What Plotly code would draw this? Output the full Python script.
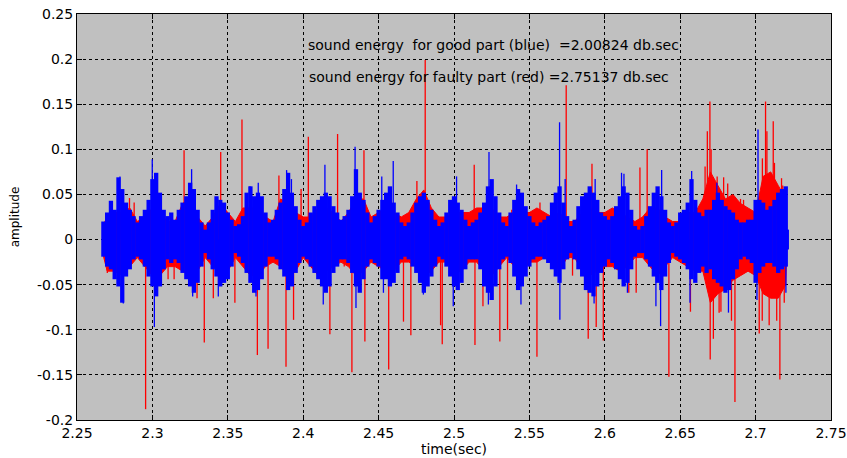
import plotly.graph_objects as go

# Sampling instants of the good-part envelope (s)
good_t = [
    2.2675, 2.2700, 2.2725, 2.2750, 2.2775, 2.2800, 2.2825, 2.2850, 2.2875, 2.2900,
    2.2925, 2.2950, 2.2975, 2.3000, 2.3025, 2.3050, 2.3075, 2.3100, 2.3125, 2.3150,
    2.3175, 2.3200, 2.3225, 2.3250, 2.3275, 2.3300, 2.3325, 2.3350, 2.3375, 2.3400,
    2.3425, 2.3450, 2.3475, 2.3500, 2.3525, 2.3550, 2.3575, 2.3600, 2.3625, 2.3650,
    2.3675, 2.3700, 2.3725, 2.3750, 2.3775, 2.3800, 2.3825, 2.3850, 2.3875, 2.3900,
    2.3925, 2.3950, 2.3975, 2.4000, 2.4025, 2.4050, 2.4075, 2.4100, 2.4125, 2.4150,
    2.4175, 2.4200, 2.4225, 2.4250, 2.4275, 2.4300, 2.4325, 2.4350, 2.4375, 2.4400,
    2.4425, 2.4450, 2.4475, 2.4500, 2.4525, 2.4550, 2.4575, 2.4600, 2.4625, 2.4650,
    2.4675, 2.4700, 2.4725, 2.4750, 2.4775, 2.4800, 2.4825, 2.4850, 2.4875, 2.4900,
    2.4925, 2.4950, 2.4975, 2.5000, 2.5025, 2.5050, 2.5075, 2.5100, 2.5125, 2.5150,
    2.5175, 2.5200, 2.5225, 2.5250, 2.5275, 2.5300, 2.5325, 2.5350, 2.5375, 2.5400,
    2.5425, 2.5450, 2.5475, 2.5500, 2.5525, 2.5550, 2.5575, 2.5600, 2.5625, 2.5650,
    2.5675, 2.5700, 2.5725, 2.5750, 2.5775, 2.5800, 2.5825, 2.5850, 2.5875, 2.5900,
    2.5925, 2.5950, 2.5975, 2.6000, 2.6025, 2.6050, 2.6075, 2.6100, 2.6125, 2.6150,
    2.6175, 2.6200, 2.6225, 2.6250, 2.6275, 2.6300, 2.6325, 2.6350, 2.6375, 2.6400,
    2.6425, 2.6450, 2.6475, 2.6500, 2.6525, 2.6550, 2.6575, 2.6600, 2.6625, 2.6650,
    2.6675, 2.6700, 2.6725, 2.6750, 2.6775, 2.6800, 2.6825, 2.6850, 2.6875, 2.6900,
    2.6925, 2.6950, 2.6975, 2.7000, 2.7025, 2.7050, 2.7075, 2.7100, 2.7125, 2.7150,
    2.7175, 2.7200, 2.7207,
]

# Good part (blue): upper envelope of the amplitude
good_upper = [
    0.020, 0.030, 0.043, 0.033, 0.069, 0.056, 0.041, 0.033, 0.026, 0.019,
    0.026, 0.033, 0.044, 0.067, 0.074, 0.052, 0.033, 0.026, 0.030, 0.022,
    0.033, 0.041, 0.048, 0.063, 0.056, 0.033, 0.019, 0.011, 0.019, 0.033,
    0.048, 0.044, 0.041, 0.030, 0.022, 0.015, 0.017, 0.026, 0.052, 0.059,
    0.048, 0.052, 0.048, 0.030, 0.019, 0.022, 0.033, 0.041, 0.056, 0.074,
    0.052, 0.037, 0.022, 0.015, 0.019, 0.030, 0.037, 0.044, 0.048, 0.052,
    0.048, 0.037, 0.030, 0.022, 0.026, 0.033, 0.048, 0.078, 0.052, 0.044,
    0.030, 0.019, 0.026, 0.033, 0.044, 0.052, 0.059, 0.041, 0.030, 0.019,
    0.015, 0.019, 0.030, 0.041, 0.048, 0.052, 0.044, 0.033, 0.022, 0.015,
    0.019, 0.030, 0.044, 0.048, 0.041, 0.033, 0.022, 0.015, 0.019, 0.022,
    0.030, 0.041, 0.059, 0.067, 0.048, 0.030, 0.019, 0.015, 0.030, 0.044,
    0.056, 0.052, 0.037, 0.026, 0.019, 0.015, 0.019, 0.022, 0.026, 0.041,
    0.052, 0.059, 0.041, 0.026, 0.015, 0.022, 0.037, 0.048, 0.052, 0.059,
    0.052, 0.044, 0.030, 0.026, 0.022, 0.026, 0.037, 0.048, 0.059, 0.052,
    0.033, 0.015, 0.011, 0.015, 0.026, 0.037, 0.052, 0.059, 0.048, 0.033,
    0.019, 0.015, 0.019, 0.030, 0.033, 0.041, 0.067, 0.044, 0.030, 0.026,
    0.033, 0.033, 0.044, 0.052, 0.044, 0.037, 0.033, 0.030, 0.022, 0.019,
    0.019, 0.022, 0.022, 0.044, 0.044, 0.041, 0.033, 0.037, 0.044, 0.052,
    0.056, 0.059, 0.011,
]

# Good part (blue): lower envelope of the amplitude
good_lower = [
    -0.019, -0.030, -0.033, -0.044, -0.052, -0.070, -0.041, -0.033, -0.022, -0.019,
    -0.022, -0.030, -0.041, -0.052, -0.063, -0.052, -0.033, -0.022, -0.026, -0.022,
    -0.026, -0.037, -0.044, -0.052, -0.059, -0.048, -0.030, -0.015, -0.022, -0.033,
    -0.041, -0.052, -0.048, -0.044, -0.030, -0.015, -0.019, -0.026, -0.037, -0.048,
    -0.059, -0.056, -0.044, -0.030, -0.019, -0.019, -0.022, -0.033, -0.041, -0.056,
    -0.052, -0.037, -0.026, -0.019, -0.022, -0.030, -0.037, -0.044, -0.052, -0.059,
    -0.052, -0.037, -0.030, -0.022, -0.022, -0.026, -0.037, -0.052, -0.059, -0.044,
    -0.030, -0.022, -0.026, -0.030, -0.044, -0.044, -0.052, -0.048, -0.037, -0.022,
    -0.019, -0.022, -0.030, -0.037, -0.048, -0.059, -0.052, -0.041, -0.030, -0.019,
    -0.022, -0.030, -0.041, -0.052, -0.056, -0.048, -0.033, -0.022, -0.022, -0.022,
    -0.033, -0.052, -0.059, -0.067, -0.052, -0.033, -0.022, -0.019, -0.026, -0.041,
    -0.056, -0.052, -0.041, -0.030, -0.022, -0.019, -0.019, -0.022, -0.026, -0.033,
    -0.041, -0.048, -0.033, -0.022, -0.015, -0.022, -0.033, -0.041, -0.056, -0.059,
    -0.063, -0.052, -0.037, -0.030, -0.022, -0.026, -0.033, -0.044, -0.052, -0.048,
    -0.033, -0.019, -0.015, -0.015, -0.022, -0.030, -0.041, -0.048, -0.056, -0.041,
    -0.026, -0.015, -0.019, -0.022, -0.026, -0.033, -0.044, -0.048, -0.037, -0.030,
    -0.037, -0.033, -0.044, -0.048, -0.052, -0.059, -0.056, -0.044, -0.033, -0.022,
    -0.019, -0.022, -0.026, -0.048, -0.037, -0.030, -0.026, -0.026, -0.030, -0.037,
    -0.033, -0.030, -0.011,
]

# Sampling instants of the faulty-part envelope (s)
faulty_t = [
    2.267, 2.270, 2.275, 2.280, 2.285, 2.290, 2.295, 2.300, 2.305, 2.310,
    2.315, 2.320, 2.325, 2.330, 2.335, 2.340, 2.345, 2.350, 2.355, 2.360,
    2.365, 2.370, 2.375, 2.380, 2.385, 2.390, 2.395, 2.400, 2.405, 2.410,
    2.415, 2.420, 2.425, 2.430, 2.435, 2.440, 2.445, 2.450, 2.455, 2.460,
    2.465, 2.470, 2.475, 2.480, 2.485, 2.490, 2.495, 2.500, 2.505, 2.510,
    2.515, 2.520, 2.525, 2.530, 2.535, 2.540, 2.545, 2.550, 2.555, 2.560,
    2.565, 2.570, 2.575, 2.580, 2.585, 2.590, 2.595, 2.600, 2.605, 2.610,
    2.615, 2.620, 2.625, 2.630, 2.635, 2.640, 2.645, 2.650, 2.655, 2.660,
    2.665, 2.670, 2.675, 2.680, 2.685, 2.690, 2.695, 2.700, 2.705, 2.710,
    2.715, 2.720, 2.7207,
]

# Faulty part (red): upper / lower envelope of the amplitude
faulty_upper = [
    0.015, 0.025, 0.030, 0.030, 0.035, 0.020, 0.025, 0.035, 0.030, 0.020,
    0.020, 0.040, 0.045, 0.025, 0.015, 0.025, 0.040, 0.030, 0.020, 0.035,
    0.035, 0.035, 0.025, 0.020, 0.045, 0.040, 0.030, 0.025, 0.025, 0.035,
    0.035, 0.030, 0.020, 0.030, 0.045, 0.045, 0.025, 0.030, 0.035, 0.030,
    0.025, 0.030, 0.045, 0.055, 0.035, 0.025, 0.025, 0.030, 0.030, 0.030,
    0.035, 0.035, 0.035, 0.025, 0.025, 0.030, 0.030, 0.030, 0.035, 0.030,
    0.025, 0.030, 0.020, 0.020, 0.030, 0.035, 0.030, 0.030, 0.035, 0.030,
    0.025, 0.020, 0.025, 0.035, 0.035, 0.025, 0.020, 0.020, 0.030, 0.030,
    0.045, 0.075, 0.060, 0.045, 0.050, 0.040, 0.035, 0.030, 0.070, 0.075,
    0.060, 0.045, 0.010,
]
faulty_lower = [
    -0.015, -0.035, -0.035, -0.040, -0.030, -0.020, -0.030, -0.040, -0.040, -0.030,
    -0.030, -0.035, -0.040, -0.035, -0.020, -0.030, -0.035, -0.035, -0.020, -0.030,
    -0.040, -0.040, -0.030, -0.025, -0.030, -0.040, -0.035, -0.020, -0.030, -0.040,
    -0.035, -0.030, -0.025, -0.030, -0.040, -0.035, -0.025, -0.030, -0.035, -0.035,
    -0.025, -0.025, -0.030, -0.040, -0.035, -0.025, -0.025, -0.035, -0.035, -0.025,
    -0.025, -0.035, -0.040, -0.030, -0.020, -0.030, -0.035, -0.025, -0.025, -0.020,
    -0.025, -0.035, -0.020, -0.020, -0.035, -0.040, -0.035, -0.030, -0.030, -0.035,
    -0.030, -0.020, -0.020, -0.030, -0.040, -0.030, -0.020, -0.025, -0.030, -0.035,
    -0.035, -0.070, -0.060, -0.055, -0.045, -0.040, -0.035, -0.040, -0.060, -0.065,
    -0.065, -0.050, -0.010,
]

# Isolated peaks of the good part: (time, amplitude)
good_peak_t = [2.2785, 2.2807, 2.2999, 2.3013, 2.3022, 2.3260, 2.3267, 2.3437, 2.3647, 2.3687,
               2.3702, 2.3890, 2.3922, 2.4133, 2.4144, 2.4344, 2.4350, 2.4521, 2.4532, 2.4597,
               2.4797, 2.4995, 2.5017, 2.5228, 2.5232, 2.5415, 2.5444, 2.5700, 2.5702, 2.5737,
               2.5929, 2.5936, 2.6111, 2.6127, 2.6150, 2.6339, 2.6370, 2.6377, 2.6565, 2.6576,
               2.6743, 2.6820, 2.7009, 2.7016, 2.7199, 2.7201]
good_peak_v = [0.070, -0.071, 0.089, -0.097, 0.072, 0.078, -0.063, -0.063, 0.059, -0.063,
               0.063, 0.077, 0.067, -0.072, 0.083, 0.103, -0.076, 0.070, -0.059, 0.087,
               -0.061, -0.074, 0.070, -0.072, 0.097, 0.061, -0.072, 0.130, -0.089, 0.067,
               -0.071, 0.067, 0.074, 0.073, -0.059, -0.074, -0.096, 0.077, -0.070, 0.076,
               0.063, -0.081, -0.067, 0.122, 0.057, -0.059]

# Isolated peaks of the faulty part: (time, amplitude)
faulty_peak_t = [2.2701, 2.2848, 2.2879, 2.2955, 2.3104, 2.3144, 2.3210, 2.3296, 2.3344, 2.3404,
                 2.3453, 2.3547, 2.3594, 2.3696, 2.3767, 2.3839, 2.3886, 2.3936, 2.3986, 2.4034,
                 2.4177, 2.4228, 2.4272, 2.4323, 2.4383, 2.4403, 2.4409, 2.4567, 2.4665, 2.4714,
                 2.4754, 2.4809, 2.4911, 2.4922, 2.5134, 2.5139, 2.5192, 2.5304, 2.5355, 2.5383,
                 2.5550, 2.5570, 2.5744, 2.5786, 2.5890, 2.5915, 2.5943, 2.5990, 2.6159, 2.6208,
                 2.6233, 2.6281, 2.6425, 2.6472, 2.6568, 2.6665, 2.6680, 2.6697, 2.6699, 2.6705,
                 2.6720, 2.6745, 2.6758, 2.6770, 2.6788, 2.6815, 2.6840, 2.6863, 2.6900, 2.6920,
                 2.7024, 2.7045, 2.7044, 2.7066, 2.7075, 2.7090, 2.7117, 2.7125, 2.7140, 2.7161,
                 2.7172, 2.7180, 2.7190, 2.7210]
faulty_peak_v = [-0.037, 0.046, 0.041, -0.188, -0.044, -0.044, 0.099, -0.065, -0.114, -0.065,
                 0.097, -0.070, 0.133, -0.128, -0.121, 0.071, -0.141, -0.089, 0.056, 0.114,
                 -0.105, 0.117, -0.030, -0.147, 0.048, 0.099, -0.113, -0.144, -0.091, -0.106,
                 0.065, 0.199, -0.095, -0.116, 0.083, -0.117, -0.074, -0.113, -0.100, 0.033,
                 -0.130, 0.041, 0.171, -0.040, -0.110, 0.084, -0.097, -0.112, -0.059, -0.059,
                 0.080, 0.100, -0.152, -0.019, -0.080, 0.081, 0.120, 0.153, -0.133, 0.100,
                 -0.110, 0.070, -0.081, -0.080, 0.069, 0.062, -0.090, -0.180, 0.045, 0.044,
                 -0.104, 0.090, -0.090, 0.153, 0.120, -0.095, 0.131, 0.085, -0.090, -0.155,
                 0.068, 0.060, -0.070, 0.007]

assert len(good_t) == len(good_upper) == len(good_lower)
assert len(faulty_t) == len(faulty_upper) == len(faulty_lower)
assert len(good_peak_t) == len(good_peak_v)
assert len(faulty_peak_t) == len(faulty_peak_v)

x_ticks = [2.25, 2.3, 2.35, 2.4, 2.45, 2.5, 2.55, 2.6, 2.65, 2.7, 2.75]
x_tick_labels = ["2.25", "2.3", "2.35", "2.4", "2.45", "2.5", "2.55", "2.6", "2.65", "2.7", "2.75"]
y_ticks = [-0.2, -0.15, -0.1, -0.05, 0, 0.05, 0.1, 0.15, 0.2, 0.25]
y_tick_labels = ["-0.2", "-0.15", "-0.1", "-0.05", "0", "0.05", "0.1", "0.15", "0.2", "0.25"]

energy_good = "2.00824"
energy_faulty = "2.75137"

RED = "#ff0000"
BLUE = "#0000ff"


def band(t, up, low, color):
    """Filled region between the upper and lower envelope."""
    return go.Scatter(
        x=list(t) + list(t)[::-1],
        y=list(up) + list(low)[::-1],
        mode="lines", fill="toself", fillcolor=color,
        line=dict(color=color, width=1), hoverinfo="skip", showlegend=False,
    )


def strokes(t, up, low, color, width):
    """One vertical stroke per sample, from its lower to its upper value."""
    xs, ys = [], []
    for ti, a, b in zip(t, up, low):
        xs += [ti, ti, None]
        ys += [b, a, None]
    return go.Scatter(x=xs, y=ys, mode="lines", line=dict(color=color, width=width),
                      hoverinfo="skip", showlegend=False)


def peaks(t, v, color):
    xs, ys = [], []
    for ti, vi in zip(t, v):
        xs += [ti, ti, None]
        ys += [0.0, vi, None]
    return go.Scatter(x=xs, y=ys, mode="lines",
                      line=dict(color=color, width=1.3),
                      hoverinfo="skip", showlegend=False)


fig = go.Figure()
fig.add_trace(band(faulty_t, faulty_upper, faulty_lower, RED))
fig.add_trace(peaks(faulty_peak_t, faulty_peak_v, RED))
fig.add_trace(strokes(good_t, good_upper, good_lower, BLUE, 4.3))
fig.add_trace(peaks(good_peak_t, good_peak_v, BLUE))

sans = "DejaVu Sans, Verdana, sans-serif"
nb = "\u00a0"
fig.add_annotation(x=2.5265, y=0.2156, xref="x", yref="y", showarrow=False,
                   text=f"sound energy{nb} for good part (blue){nb} ={energy_good} db.sec",
                   font=dict(family=sans, size=14, color="black"))
fig.add_annotation(x=2.5235, y=0.180, xref="x", yref="y", showarrow=False,
                   text=f"sound energy for faulty part (red) ={energy_faulty} db.sec",
                   font=dict(family=sans, size=14, color="black"))

axis_common = dict(
    automargin=False,
    showline=True, mirror="ticks", linecolor="black", linewidth=1,
    showgrid=True, gridcolor="black", gridwidth=1, griddash="3px,3px",
    ticks="inside", ticklen=5, tickcolor="black",
    zeroline=False, tickfont=dict(family=sans, size=14, color="black"),
)
fig.update_xaxes(range=[2.25, 2.75], tickvals=x_ticks, ticktext=x_tick_labels,
                 title=dict(text="time(sec)", font=dict(family=sans, size=14, color="black"),
                            standoff=2),
                 **axis_common)
fig.update_yaxes(range=[-0.2, 0.25], tickvals=y_ticks, ticktext=y_tick_labels,
                 title=dict(text="amplitude", font=dict(family=sans, size=12, color="black"),
                            standoff=14),
                 **axis_common)
fig.update_layout(
    width=847, height=458,
    margin=dict(l=77, r=16, t=14, b=38),
    paper_bgcolor="white", plot_bgcolor="#c0c0c0",
    showlegend=False,
)
fig.write_html("out.html")
